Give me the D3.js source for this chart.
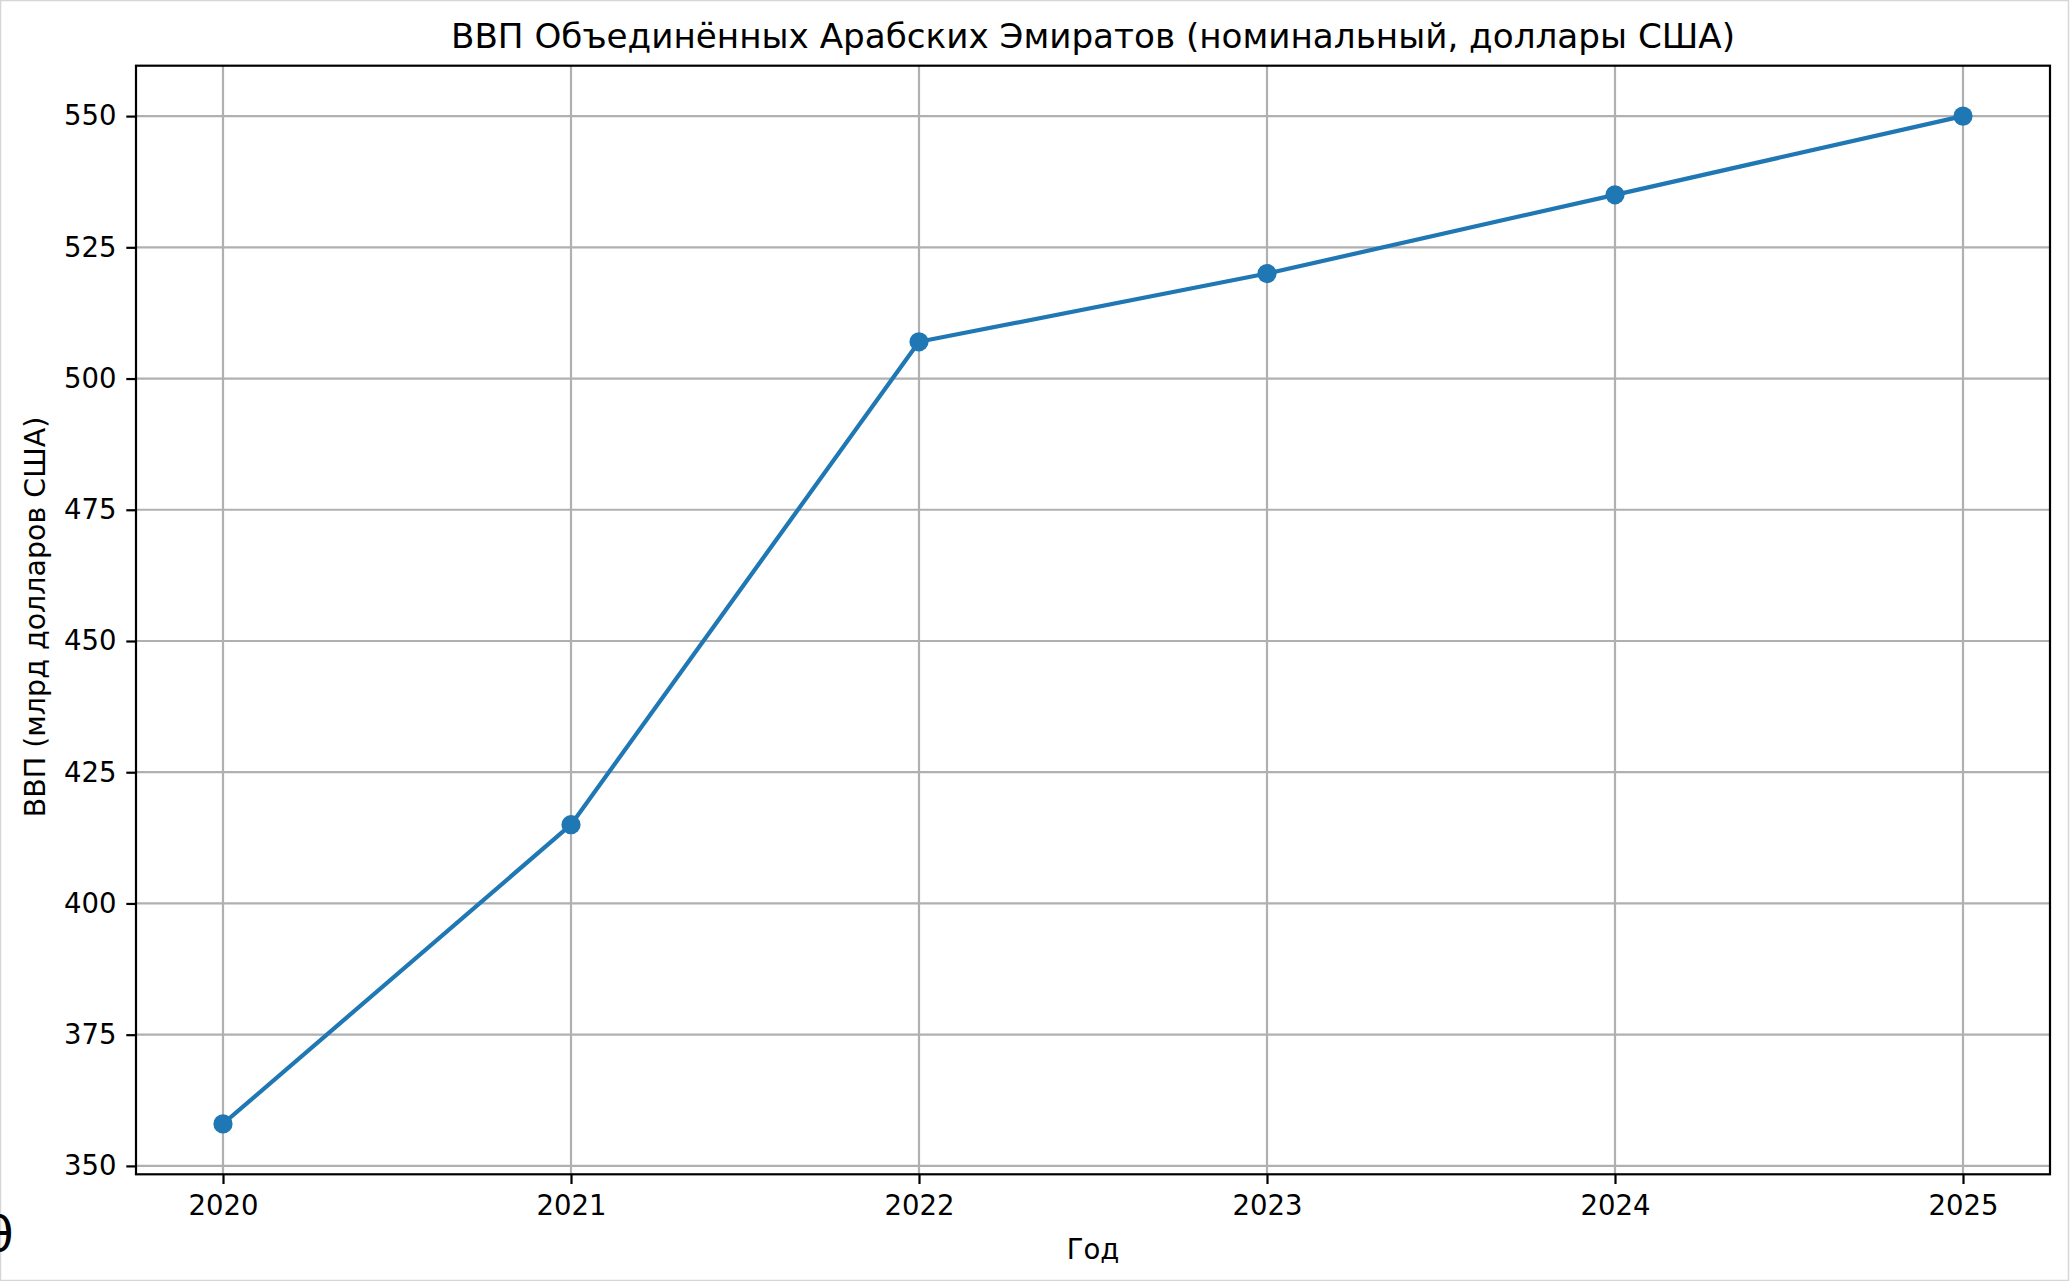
<!DOCTYPE html>
<html>
<head>
<meta charset="utf-8">
<script src="https://cdn.jsdelivr.net/npm/d3@7"></script>
<style>
  body { margin: 0; background: #fff; }
  svg { display: block; font-family: "DejaVu Sans", sans-serif; }
</style>
</head>
<body>
<div id="chart"></div>
<script>
// data
var years = [2020, 2021, 2022, 2023, 2024, 2025];
var gdp = [358, 415, 507, 520, 535, 550];
var yTicks = [350, 375, 400, 425, 450, 475, 500, 525, 550];

var title = "ВВП Объединённых Арабских Эмиратов (номинальный, доллары США)";
var xLabel = "Год";
var yLabel = "ВВП (млрд долларов США)";

function drawchart() {
    var width = 2071, height = 1281;
    var margin = {top: 65.7, right: 21, bottom: 106.7, left: 136};
    var w = width - margin.left - margin.right;
    var h = height - margin.top - margin.bottom;

    var svg = d3.select("#chart")
        .append("svg")
        .attr("width", width)
        .attr("height", height);

    // thin light frame round the picture
    svg.append("rect")
        .attr("x", 0.5).attr("y", 0.5)
        .attr("width", width - 3).attr("height", height - 1)
        .attr("fill", "none")
        .attr("stroke", "#d6d6d6")
        .attr("stroke-width", 1.5);

    var g = svg.append("g")
        .attr("transform", "translate(" + margin.left + "," + margin.top + ")");

    // matplotlib style 5% margins
    var xMin = d3.min(years), xMax = d3.max(years);
    var yMin = d3.min(gdp), yMax = d3.max(gdp);
    var xPad = (xMax - xMin) * 0.05, yPad = (yMax - yMin) * 0.05;

    var x = d3.scaleLinear()
        .domain([xMin - xPad, xMax + xPad])
        .range([0, w]);
    var y = d3.scaleLinear()
        .domain([yMin - yPad, yMax + yPad])
        .range([h, 0]);

    var tickLen = 9.7, tickPad = 9.7, fs = 27.5;

    // grid
    g.append("g").selectAll("line")
        .data(years).enter().append("line")
        .attr("x1", d => x(d)).attr("x2", d => x(d))
        .attr("y1", 0).attr("y2", h)
        .attr("stroke", "#b0b0b0").attr("stroke-width", 2.2);
    g.append("g").selectAll("line")
        .data(yTicks).enter().append("line")
        .attr("x1", 0).attr("x2", w)
        .attr("y1", d => y(d)).attr("y2", d => y(d))
        .attr("stroke", "#b0b0b0").attr("stroke-width", 2.2);

    // axes
    var xAxis = d3.axisBottom(x).tickValues(years).tickFormat(d3.format("d"))
        .tickSizeInner(tickLen).tickSizeOuter(0).tickPadding(tickPad);
    var yAxis = d3.axisLeft(y).tickValues(yTicks).tickFormat(d3.format("d"))
        .tickSizeInner(tickLen).tickSizeOuter(0).tickPadding(tickPad);

    var gx = g.append("g")
        .attr("transform", "translate(0," + h + ")")
        .call(xAxis);
    var gy = g.append("g").call(yAxis);

    [gx, gy].forEach(function (a) {
        a.select(".domain").remove();
        a.selectAll(".tick line").attr("stroke", "#000").attr("stroke-width", 2.2);
        a.selectAll(".tick text")
            .attr("fill", "#000")
            .style("font-size", fs + "px")
            .style("font-family", "DejaVu Sans");
    });
    gx.selectAll(".tick text").attr("dy", "0.78em");

    // spines
    g.append("rect")
        .attr("x", 0).attr("y", 0)
        .attr("width", w).attr("height", h)
        .attr("fill", "none")
        .attr("stroke", "#000")
        .attr("stroke-width", 2.2);

    // line + markers
    var pts = years.map((d, i) => ({year: d, value: gdp[i]}));
    var line = d3.line()
        .x(d => x(d.year))
        .y(d => y(d.value));

    g.append("path")
        .datum(pts)
        .attr("d", line)
        .attr("fill", "none")
        .attr("stroke", "#1f77b4")
        .attr("stroke-width", 4.2)
        .attr("stroke-linejoin", "round")
        .attr("stroke-linecap", "square");

    g.append("g").selectAll("circle")
        .data(pts).enter().append("circle")
        .attr("cx", d => x(d.year))
        .attr("cy", d => y(d.value))
        .attr("r", 9.6)
        .attr("fill", "#1f77b4");

    // texts
    svg.append("text")
        .attr("x", margin.left + w / 2)
        .attr("y", 48)
        .attr("text-anchor", "middle")
        .style("font-size", "34.2px")
        .text(title);

    svg.append("text")
        .attr("x", margin.left + w / 2)
        .attr("y", 1259)
        .attr("text-anchor", "middle")
        .style("font-size", fs + "px")
        .text(xLabel);

    svg.append("text")
        .attr("transform", "translate(45," + (margin.top + h / 2 - 3) + ") rotate(-90)")
        .attr("text-anchor", "middle")
        .style("font-size", "28.5px")
        .text(yLabel);

    // stray glyph cut at the left edge of the picture
    svg.append("text")
        .attr("x", -1)
        .attr("y", 1251)
        .attr("text-anchor", "middle")
        .style("font-size", "48px")
        .text("θ");
}

drawchart();
</script>
</body>
</html>
